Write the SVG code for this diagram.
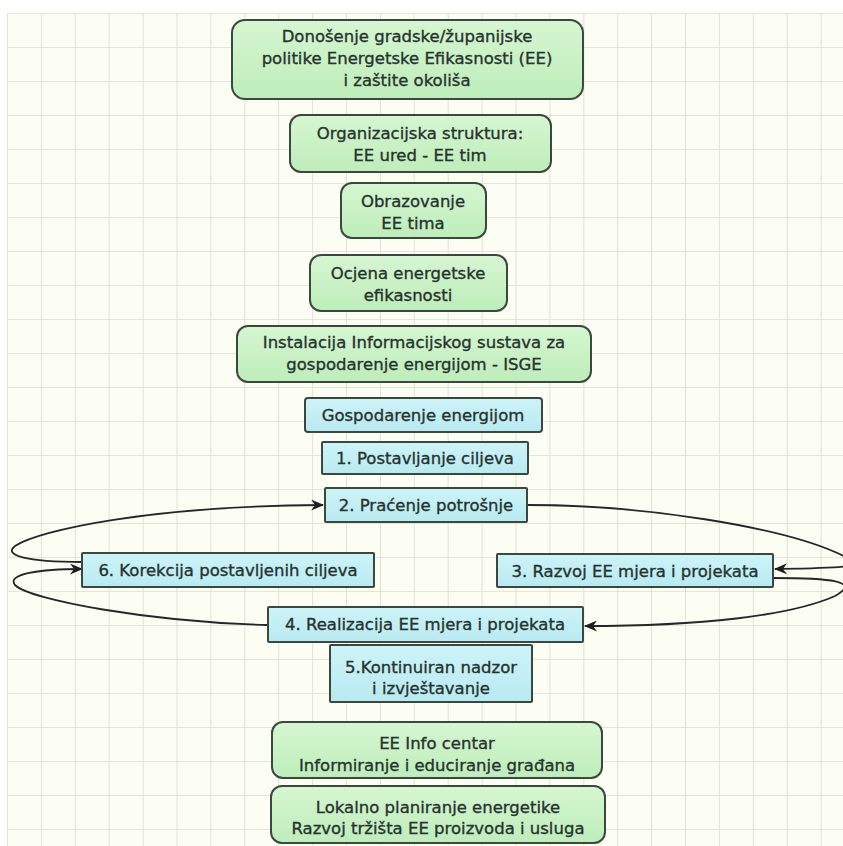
<svg xmlns="http://www.w3.org/2000/svg" width="843" height="846" viewBox="0 0 843 846">
<defs>
<pattern id="grid" x="7" y="13" width="33.9" height="34" patternUnits="userSpaceOnUse">
<rect width="33.9" height="34" fill="#FCFDF3"/>
<path d="M0,0 H33.9 M0,0 V34" stroke="#DCDFD2" stroke-width="1.7" fill="none"/>
</pattern>
<linearGradient id="gg" x1="0" y1="0" x2="0" y2="1">
<stop offset="0" stop-color="#D6F6D1"/>
<stop offset="1" stop-color="#BEEDBA"/>
</linearGradient>
<linearGradient id="bg" x1="0" y1="0" x2="0" y2="1">
<stop offset="0" stop-color="#CDF4F8"/>
<stop offset="1" stop-color="#B8EAF1"/>
</linearGradient>
<marker id="arr" viewBox="0 0 13 11" refX="12" refY="5.5" markerWidth="13" markerHeight="11" markerUnits="userSpaceOnUse" orient="auto">
<path d="M0,0 L13,5.5 L0,11 L4,5.5 z" fill="#1E1E1E"/>
</marker>
</defs>
<style>
.g{fill:url(#gg);stroke:#3A4840;stroke-width:2}
.b{fill:url(#bg);stroke:#3A4840;stroke-width:2}
text{font-family:"DejaVu Sans","Liberation Sans",sans-serif;font-size:16.5px;fill:#27332F;stroke:#27332F;stroke-width:0.35;text-anchor:middle}
.c{fill:none;stroke:#262626;stroke-width:1.8;marker-end:url(#arr)}
</style>
<rect width="843" height="846" fill="#FFFFFF"/>
<rect x="7" y="13" width="836" height="833" fill="url(#grid)"/>

<g id="connectors">
<path class="c" d="M82,562 C25,562 3,555 15,546 C40,530 150,506 323,505"/>
<path class="c" d="M268,625 C150,622 30,600 15,585 C6,574 40,569 82,569"/>
<path class="c" d="M527,505 C650,505 780,528 835,552 C872,568 850,568 775,569"/>
<path class="c" d="M773,578 C830,578 862,581 835,596 C790,616 700,626 585,626"/>
</g>

<g id="n1"><rect class="g" x="232" y="20" width="351" height="79" rx="13"/>
<text x="407" y="42">Donošenje gradske/županijske</text>
<text x="407" y="64">politike Energetske Efikasnosti (EE)</text>
<text x="407" y="86">i zaštite okoliša</text></g>

<g id="n2"><rect class="g" x="290" y="115" width="261" height="57" rx="11"/>
<text x="420" y="139">Organizacijska struktura:</text>
<text x="420" y="161">EE ured - EE tim</text></g>

<g id="n3"><rect class="g" x="341" y="183" width="145" height="55" rx="11"/>
<text x="413" y="207">Obrazovanje</text>
<text x="413" y="229">EE tima</text></g>

<g id="n4"><rect class="g" x="310" y="255" width="197" height="56" rx="11"/>
<text x="408" y="279">Ocjena energetske</text>
<text x="408" y="301">efikasnosti</text></g>

<g id="n5"><rect class="g" x="237" y="326" width="354" height="56" rx="11"/>
<text x="414" y="348">Instalacija Informacijskog sustava za</text>
<text x="414" y="370">gospodarenje energijom - ISGE</text></g>

<g id="n6"><rect class="b" x="305" y="398" width="237" height="34" rx="3"/>
<text x="423" y="421">Gospodarenje energijom</text></g>

<g id="n7"><rect class="b" x="322" y="442" width="206" height="32" rx="1"/>
<text x="425" y="464">1. Postavljanje ciljeva</text></g>

<g id="n8"><rect class="b" x="325" y="488" width="202" height="34" rx="1"/>
<text x="426" y="511">2. Praćenje potrošnje</text></g>

<g id="n9"><rect class="b" x="82" y="553" width="292" height="34" rx="1"/>
<text x="228" y="576">6. Korekcija postavljenih ciljeva</text></g>

<g id="n10"><rect class="b" x="497" y="554" width="276" height="33" rx="1"/>
<text x="635" y="577">3. Razvoj EE mjera i projekata</text></g>

<g id="n11"><rect class="b" x="268" y="607" width="315" height="35" rx="1"/>
<text x="425" y="630">4. Realizacija EE mjera i projekata</text></g>

<g id="n12"><rect class="b" x="330" y="645" width="202" height="57" rx="1"/>
<text x="431" y="673">5.Kontinuiran nadzor</text>
<text x="431" y="694">i izvještavanje</text></g>

<g id="n13"><rect class="g" x="272" y="722" width="330" height="56" rx="11"/>
<text x="437" y="749">EE Info centar</text>
<text x="437" y="771">Informiranje i educiranje građana</text></g>

<g id="n14"><rect class="g" x="271" y="786" width="334" height="57" rx="11"/>
<text x="438" y="813">Lokalno planiranje energetike</text>
<text x="438" y="834">Razvoj tržišta EE proizvoda i usluga</text></g>
</svg>
